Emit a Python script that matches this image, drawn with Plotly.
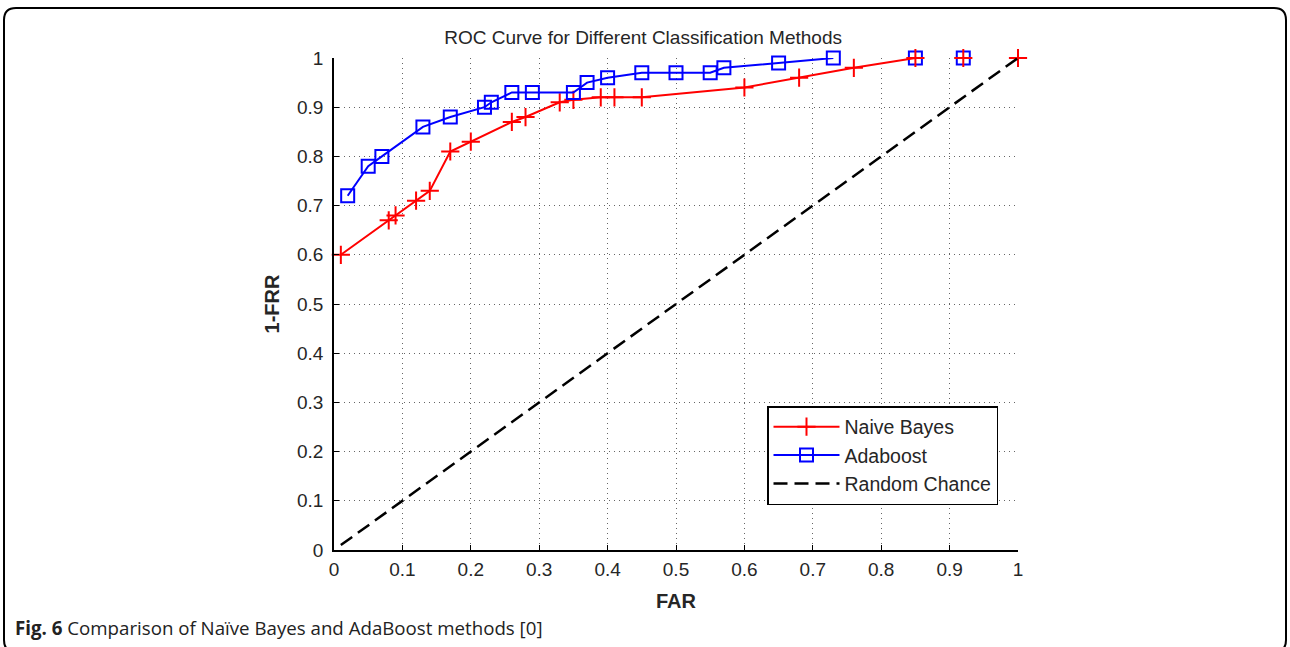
import plotly.graph_objects as go

# ---- data ----
nb_x = [0.01, 0.08, 0.09, 0.12, 0.14, 0.17, 0.20, 0.26, 0.28, 0.33, 0.35, 0.39, 0.41, 0.45, 0.60, 0.68, 0.76, 0.85]
nb_y = [0.60, 0.67, 0.68, 0.71, 0.73, 0.81, 0.83, 0.87, 0.88, 0.91, 0.915, 0.92, 0.92, 0.92, 0.94, 0.96, 0.98, 1.00]
nb_extra_x = [0.92, 1.00]
nb_extra_y = [1.00, 1.00]

ada_x = [0.02, 0.05, 0.07, 0.13, 0.17, 0.22, 0.23, 0.26, 0.29, 0.35, 0.37, 0.40, 0.45, 0.50, 0.55, 0.57, 0.65, 0.73]
ada_y = [0.72, 0.78, 0.80, 0.86, 0.88, 0.90, 0.91, 0.93, 0.93, 0.93, 0.95, 0.96, 0.97, 0.97, 0.97, 0.98, 0.99, 1.00]
ada_extra_x = [0.85, 0.92]
ada_extra_y = [1.00, 1.00]

rand_x = [0.01, 1.00]
rand_y = [0.01, 1.00]

ticks = [0, 0.1, 0.2, 0.3, 0.4, 0.5, 0.6, 0.7, 0.8, 0.9, 1]
tick_text = ["0", "0.1", "0.2", "0.3", "0.4", "0.5", "0.6", "0.7", "0.8", "0.9", "1"]

RED = "#ff0000"
BLUE = "#0000ff"
TXT = "#262626"
FONT = "Liberation Sans, Arial"

fig = go.Figure()
fig.add_trace(go.Scatter(x=ada_extra_x, y=ada_extra_y, mode="markers", showlegend=False, cliponaxis=False,
                         marker=dict(symbol="square-open", size=13, color=BLUE, line=dict(width=2, color=BLUE))))
fig.add_trace(go.Scatter(x=nb_extra_x, y=nb_extra_y, mode="markers", showlegend=False, cliponaxis=False,
                         marker=dict(symbol="cross-thin-open", size=13, color=RED, line=dict(width=2, color=RED))))
fig.add_trace(go.Scatter(x=nb_x, y=nb_y, mode="lines+markers", name="Naive Bayes", cliponaxis=False,
                         line=dict(color=RED, width=2),
                         marker=dict(symbol="cross-thin-open", size=13, color=RED, line=dict(width=2, color=RED))))
fig.add_trace(go.Scatter(x=ada_x, y=ada_y, mode="lines+markers", name="Adaboost", cliponaxis=False,
                         line=dict(color=BLUE, width=2),
                         marker=dict(symbol="square-open", size=13, color=BLUE, line=dict(width=2, color=BLUE))))
fig.add_trace(go.Scatter(x=rand_x, y=rand_y, mode="lines", name="Random Chance",
                         line=dict(color="black", width=2.5, dash="14px,7px")))

L, R, T, B = 334, 1018, 58, 550
W, H = 1290, 647

def px(x):
    return (x - L) / (R - L)

def py(y):
    return (B - y) / (B - T)

# rounded frame path in paper coords
x0, x1, y0, y1, r = 4, 1286, 8, 652, 12
path = (f"M {px(x0)},{py(y0 + r)} Q {px(x0)},{py(y0)} {px(x0 + r)},{py(y0)} "
        f"L {px(x1 - r)},{py(y0)} Q {px(x1)},{py(y0)} {px(x1)},{py(y0 + r)} "
        f"L {px(x1)},{py(y1 - r)} Q {px(x1)},{py(y1)} {px(x1 - r)},{py(y1)} "
        f"L {px(x0 + r)},{py(y1)} Q {px(x0)},{py(y1)} {px(x0)},{py(y1 - r)} Z")

axis_common = dict(
    range=[0, 1], tickvals=ticks, ticktext=tick_text,
    showgrid=True, gridcolor="#666666", griddash="1px,4px", gridwidth=1,
    showline=True, linecolor="black", linewidth=1.5,
    ticks="inside", ticklen=5, tickcolor="black",
    tickfont=dict(family=FONT, size=19, color=TXT),
    zeroline=False, mirror=False,
)

fig.update_layout(
    width=W, height=H,
    margin=dict(l=L, r=W - R, t=T, b=H - B),
    paper_bgcolor="white", plot_bgcolor="white",
    title=dict(text="ROC Curve for Different Classification Methods", x=px(675), xanchor="center",
               y=1 - 37 / H, yanchor="middle",
               font=dict(family=FONT, size=19, color=TXT)),
    xaxis=dict(**axis_common, ticklabelstandoff=1,
               title=dict(text="<b>FAR</b>", standoff=15,
                          font=dict(family=FONT, size=20, color=TXT))),
    yaxis=dict(**axis_common, ticklabelstandoff=5,
               title=dict(text="<b>1-FRR</b>", standoff=12,
                          font=dict(family=FONT, size=20, color=TXT))),
    legend=dict(x=px(767), y=py(406), xanchor="left", yanchor="top",
                bordercolor="black", borderwidth=1.5, bgcolor="white",
                font=dict(family=FONT, size=19.5, color=TXT),
                itemwidth=66),
    shapes=[dict(type="path", xref="paper", yref="paper", path=path,
                 line=dict(color="black", width=2), fillcolor="rgba(0,0,0,0)", layer="below")],
    annotations=[dict(text="<b>Fig. 6</b> Comparison of Naïve Bayes and AdaBoost methods [0]",
                      xref="paper", yref="paper", x=px(13), y=py(627), xanchor="left", yanchor="middle",
                      showarrow=False,
                      font=dict(family="Open Sans, Noto Sans", size=18.7, color="#222222"))],
)

fig.write_html("out.html",
               config={"displayModeBar": False},
               post_script="document.body.style.margin='0';document.body.style.overflow='hidden';")
